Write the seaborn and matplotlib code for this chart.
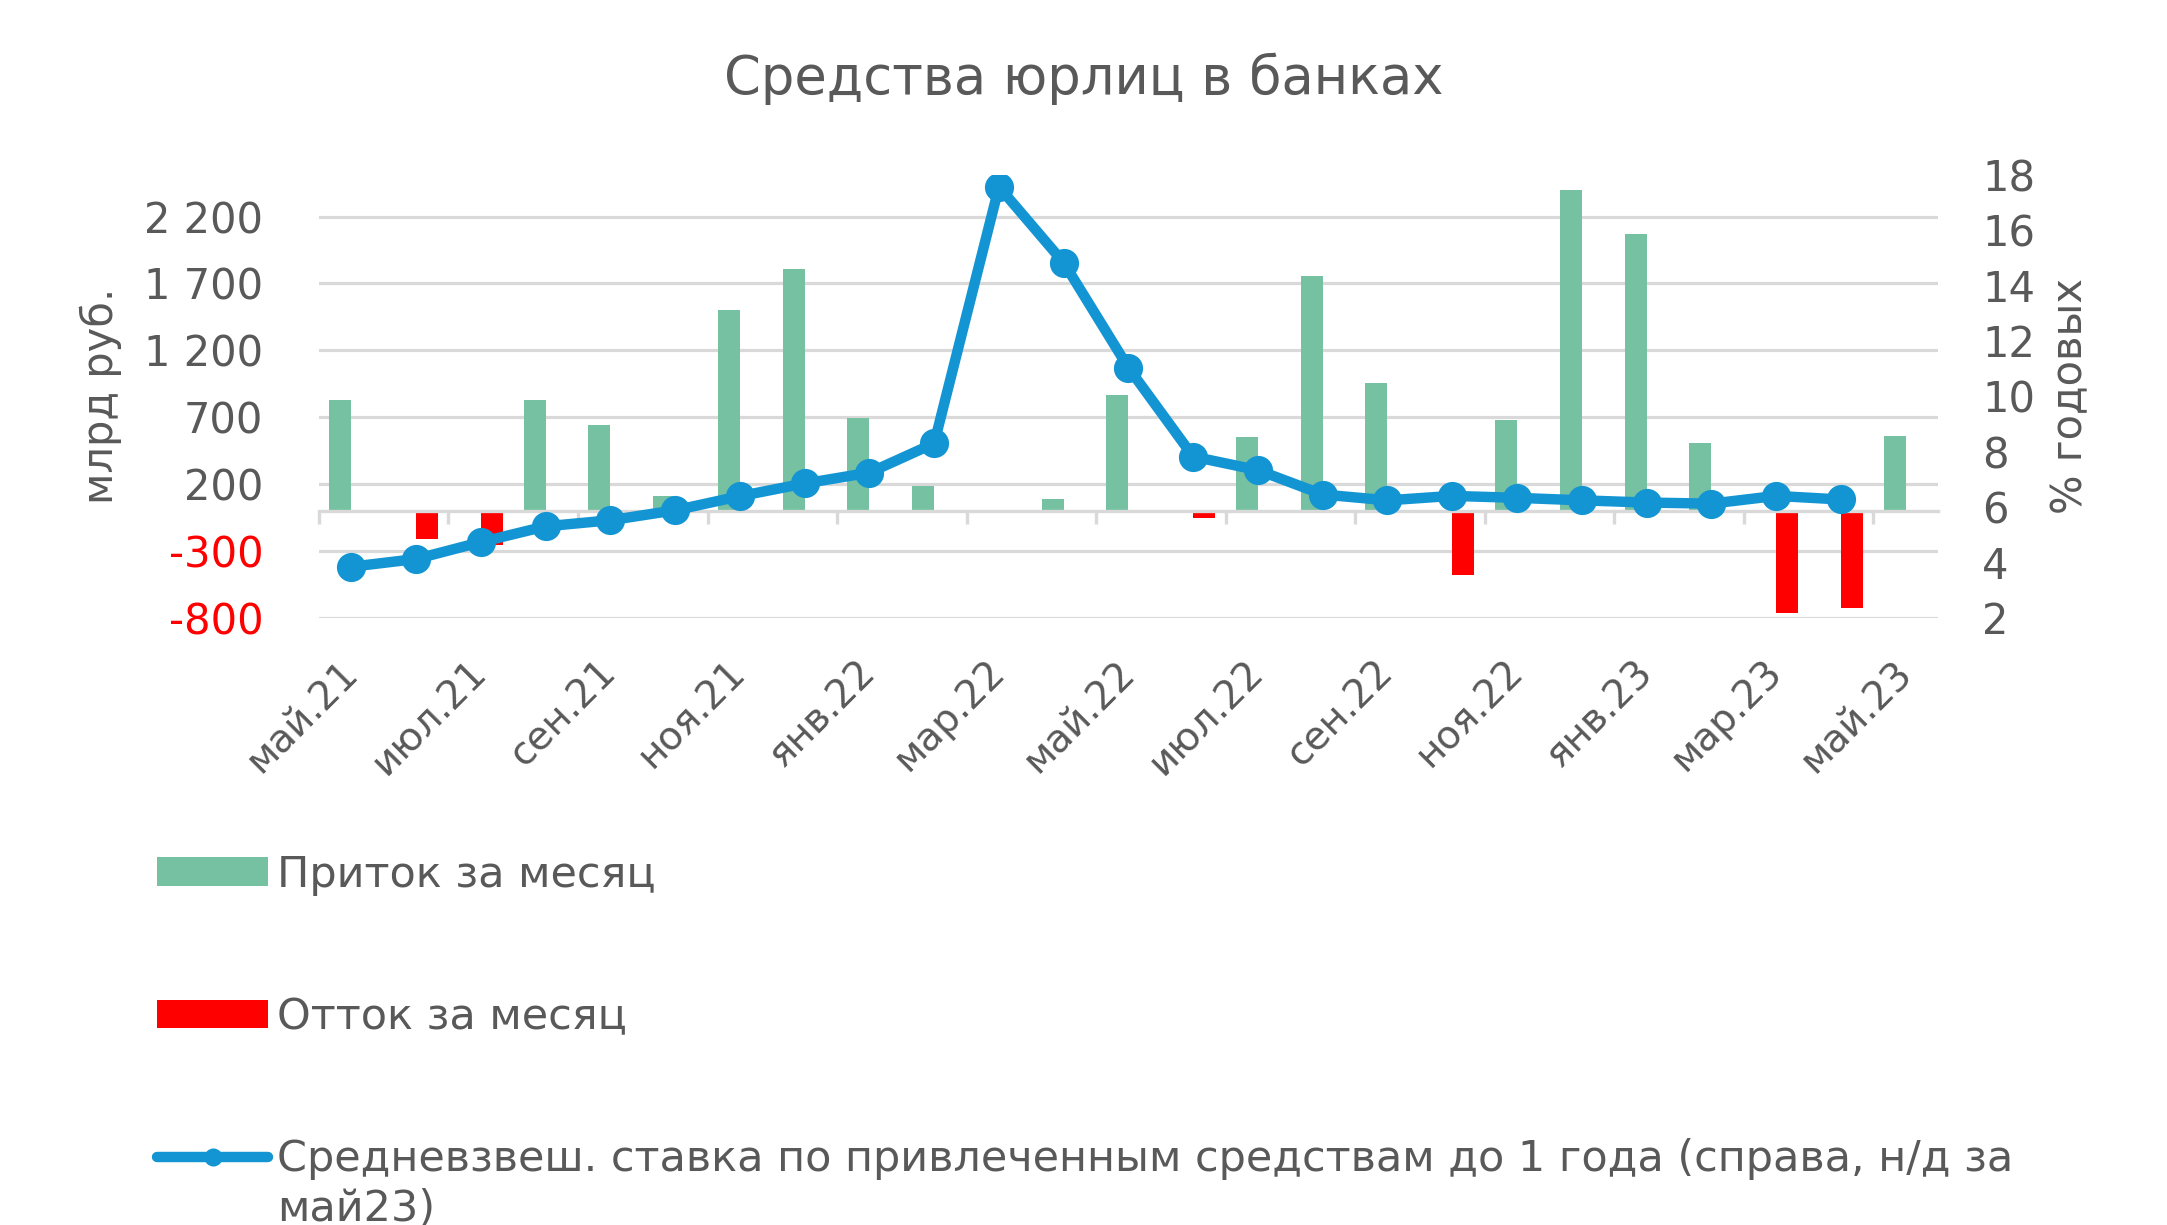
import numpy as np
import pandas as pd
import matplotlib
matplotlib.use("Agg")
import matplotlib.pyplot as plt
import seaborn as sns
from matplotlib.patches import Patch
from matplotlib.lines import Line2D
from matplotlib.ticker import FixedLocator

nan = np.nan

months = ['май.21', 'июн.21', 'июл.21', 'авг.21', 'сен.21', 'окт.21', 'ноя.21', 'дек.21',
          'янв.22', 'фев.22', 'мар.22', 'апр.22', 'май.22', 'июн.22', 'июл.22', 'авг.22',
          'сен.22', 'окт.22', 'ноя.22', 'дек.22', 'янв.23', 'фев.23', 'мар.23', 'апр.23', 'май.23']

inflow = [827, nan, nan, 830, 640, 108, 1500, 1805, 697, 188, nan, 89, 865, nan,
          553, 1755, 952, nan, 682, 2399, 2067, 503, nan, nan, 558]
outflow = [nan, -208, -255, nan, nan, nan, nan, nan, nan, nan, -12, nan, nan, -55,
           nan, nan, nan, -483, nan, nan, nan, nan, -765, -725, nan]
rate = [3.84, 4.12, 4.73, 5.30, 5.52, 5.88, 6.39, 6.85, 7.24, 8.30, 17.57, 14.83, 11.03,
        7.82, 7.33, 6.45, 6.24, 6.40, 6.33, 6.24, 6.16, 6.12, 6.40, 6.27, nan]

left_ticks = [-800, -300, 200, 700, 1200, 1700, 2200]
left_labels = ['-800', '-300', '200', '700', '1 200', '1 700', '2 200']
right_ticks = [2, 4, 6, 8, 10, 12, 14, 16, 18]

title = 'Средства юрлиц в банках'
lab_in = 'Приток за месяц'
lab_out = 'Отток за месяц'
lab_rate_1 = 'Средневзвеш. ставка по привлеченным средствам до 1 года (справа, н/д за'
lab_rate_2 = 'май23)'

GREEN = '#76C1A1'
RED = '#FF0000'
BLUE = '#1395D3'
GRAY = '#595959'
GRID = '#D9D9D9'

sns.set_style('white')
plt.rcParams['font.family'] = ['DejaVu Sans']

n = len(months)
df = pd.DataFrame({
    'month': months * 2,
    'value': inflow + outflow,
    'kind': [lab_in] * n + [lab_out] * n,
})

fig = plt.figure(figsize=(21.67, 12.25), dpi=100)
ax = fig.add_axes([0.1472, 0.4958, 0.7471, 0.3614])

sns.barplot(data=df, x='month', y='value', hue='kind', order=months,
            hue_order=[lab_in, lab_out], palette=[GREEN, RED], width=0.68,
            dodge=True, saturation=1, errorbar=None, legend=False,
            linewidth=0, ax=ax)

ax2 = ax.twinx()
sns.lineplot(x=np.arange(n), y=rate, ax=ax2, color=BLUE, linewidth=7.5,
             marker='o', markersize=21, markeredgewidth=0, markerfacecolor=BLUE)

ax.set_xlim(-0.5, n - 0.5)
ax.set_ylim(-800, 2512)
ax2.set_ylim(2, 18)

# spines first (set_position resets ticks)
ax.spines['bottom'].set_position(('data', 0))
ax.spines['bottom'].set_color(GRID)
ax.spines['bottom'].set_linewidth(2.4)
for s in ['top', 'left', 'right']:
    ax.spines[s].set_visible(False)
for s in ax2.spines.values():
    s.set_visible(False)

# left axis
ax.tick_params(axis='y', length=0, pad=40, labelsize=30)
ax.set_yticks(left_ticks)
ax.set_yticklabels(left_labels)
for t, v in zip(ax.get_yticklabels(), left_ticks):
    t.set_color(RED if v < 0 else GRAY)
ax.yaxis.grid(True, color=GRID, linewidth=2.3)
ax.xaxis.grid(False)
ax.set_axisbelow(True)

# x axis at zero with tick marks between category pairs, labels low
ax.xaxis.set_minor_locator(FixedLocator(np.arange(-0.5, n - 1, 2)))
ax.tick_params(axis='x', which='major', bottom=True, length=0, pad=112,
               labelsize=28, labelcolor=GRAY)
ax.tick_params(axis='x', which='minor', bottom=True, length=9, width=2.4,
               color=GRID, direction='out')
ax.set_xticks(np.arange(0, n, 2))
ax.set_xticklabels(months[::2], rotation=45, ha='right', va='center',
                   rotation_mode='anchor', fontsize=28, color=GRAY)

ax.set_xlabel('')
ax.set_ylabel('млрд руб.', fontsize=30, color=GRAY)
ax.yaxis.set_label_coords(-0.135, 0.5)
ax.yaxis.label.set_verticalalignment('center')

ax2.tick_params(axis='y', length=0, pad=32, labelsize=30, labelcolor=GRAY)
ax2.set_yticks(right_ticks)
ax2.grid(False)
ax2.set_xlabel('')
ax2.set_ylabel('% годовых', fontsize=30, color=GRAY)
ax2.yaxis.set_label_coords(1.0815, 0.5)
ax2.yaxis.label.set_verticalalignment('center')

fig.text(0.5, 0.936, title, ha='center', va='center', fontsize=38, color=GRAY)

handles = [Patch(facecolor=GREEN, edgecolor='none'),
           Patch(facecolor=RED, edgecolor='none'),
           Line2D([], [], color=BLUE, linewidth=7.5, marker='o', markersize=13,
                  markeredgewidth=0)]
leg = fig.legend(handles, [lab_in, lab_out, lab_rate_1], loc='upper left',
                 bbox_to_anchor=(0.0725, 0.303), frameon=False, fontsize=31,
                 labelspacing=2.33, handlelength=2.58, handleheight=0.64,
                 handletextpad=0.2, borderpad=0, borderaxespad=0, labelcolor=GRAY)

# continuation line of the wrapped third legend label
fig.canvas.draw()
bb = leg.get_texts()[2].get_window_extent()
fig.text(bb.x0 / fig.bbox.width, (bb.y0 - 50) / fig.bbox.height,
         lab_rate_2, ha='left', va='bottom', fontsize=31, color=GRAY)

fig.savefig('out.png', dpi=100)
